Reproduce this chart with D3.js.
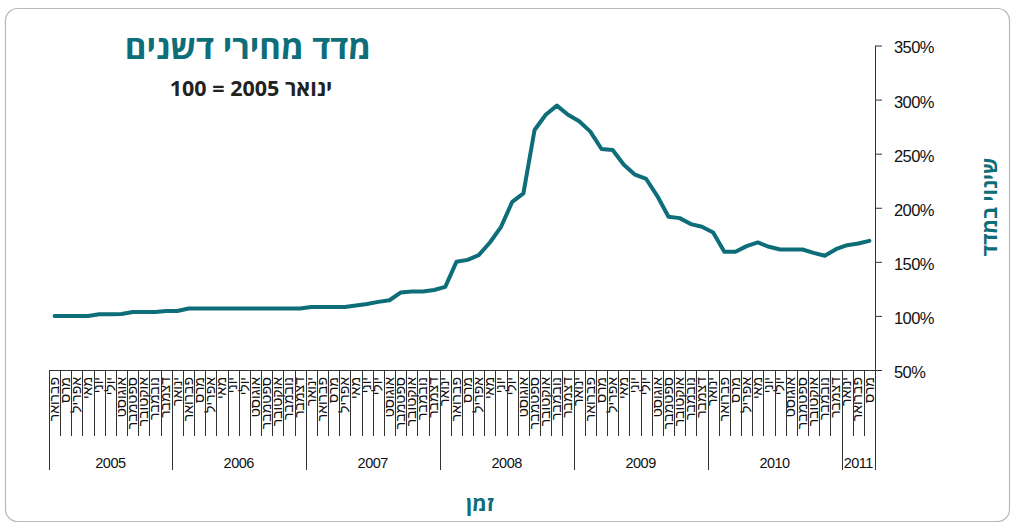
<!DOCTYPE html>
<html>
<head>
<meta charset="utf-8">
<script src="https://cdn.jsdelivr.net/npm/d3@7"></script>
<style>
  body { margin: 0; background: #fff; }
  .svgText { font-family: "Liberation Sans", Arial, sans-serif; fill: #111; }
  .heb { font-family: "Open Sans", "DejaVu Sans", "Liberation Sans", sans-serif; }
</style>
</head>
<body>
<div id="overview"></div>
<script>
// months shown on the category axis, Feb 2005 .. Mar 2011
const monthNames = ['ינואר', 'פברואר', 'מרס', 'אפריל', 'מאי', 'יוני', 'יולי', 'אוגוסט', 'ספטמבר', 'אוקטובר', 'נובמבר', 'דצמבר'];
const years = ['2005', '2006', '2007', '2008', '2009', '2010', '2011'];
const yearMonths = [11, 12, 12, 12, 12, 12, 3];
const firstMonth = 1; // february

// index value, january 2005 = 100
const values = [
  100, 100, 100, 100, 101.5, 101.6, 101.8, 103.7, 103.7, 103.7, 104.6, 104.6,
  106.8, 106.8, 106.8, 106.8, 106.8, 106.8, 106.8, 106.8, 106.8, 106.8, 106.8,
  108.3, 108.3, 108.3, 108.3, 109.6, 111, 113, 114.5,
  121.6, 122.5, 122.5, 124, 126.9,
  150, 151.8, 156.2, 167.9, 182.4, 205.5, 213.3, 271.9, 286, 294.4, 286, 279.9,
  270.4, 254.3, 253.4, 239.8, 230.6, 226.6, 210.8, 191.7, 190.4, 184.9, 182.4, 177.1,
  159.3, 159.3, 164.5, 167.9, 163.9, 161.4, 161.4, 161.4, 158.3, 155.6, 161.7, 165.4, 166.9, 169.4
];
const yTicks = [50, 100, 150, 200, 250, 300, 350];

const title = 'מדד מחירי דשנים';
const subtitle = 'ינואר 2005 = 100';
const yLabel = 'שינוי במדד';
const xLabel = 'זמן';

const teal = '#0d6d78';

LineChart = {

  svgSize: {width: 1013, height: 524},
  plot: {left: 49, right: 875, top: 45.5, bottom: 370},

  buildData: function(){
    this.data = values.map((v, i)=> {
      const m = (firstMonth + i) % 12;
      return {i: i, month: monthNames[m], isJan: m === 0, value: v};
    });
  },

  createSVG: function(){
    this.svg = d3.select('#overview').append('svg')
      .attr('width', this.svgSize.width)
      .attr('height', this.svgSize.height)
      .attr('viewBox', `0 0 ${this.svgSize.width} ${this.svgSize.height}`);

    this.svg.append('rect')
      .attr('x', 5.5).attr('y', 8.5)
      .attr('width', 1004).attr('height', 513)
      .attr('rx', 12)
      .attr('fill', '#fff')
      .attr('stroke', '#b8b8b8')
      .attr('stroke-width', 1.2);
  },

  createScales: function(){
    this.xScale = d3.scaleBand()
      .domain(this.data.map((d)=> d.i))
      .range([this.plot.left, this.plot.right])
      .padding(0);
    this.yScale = d3.scaleLinear()
      .domain([50, 350])
      .range([this.plot.bottom, this.plot.top]);
  },

  createYAxis: function(){
    const yAxis = d3.axisRight(this.yScale)
      .tickValues(yTicks)
      .tickFormat((d)=> `${d}%`)
      .tickSize(7)
      .tickSizeOuter(0)
      .tickPadding(12);
    const g = this.svg.append('g')
      .attr('transform', `translate(${this.plot.right}, 0)`)
      .call(yAxis);
    g.select('.domain').attr('stroke', '#333');
    g.selectAll('.tick line').attr('stroke', '#333');
    g.selectAll('text')
      .attr('class', 'svgText')
      .attr('font-size', 16.5)
      .attr('letter-spacing', -0.6)
      .attr('dy', '0.45em');
  },

  createXAxis: function(){
    const xAxis = d3.axisBottom(this.xScale)
      .tickFormat((i)=> this.data[i].month)
      .tickSize(0)
      .tickSizeOuter(0);
    const g = this.svg.append('g')
      .attr('transform', `translate(0, ${this.plot.bottom})`)
      .call(xAxis);
    g.select('.domain').attr('stroke', '#333');
    g.selectAll('text')
      .attr('class', 'svgText')
      .attr('font-size', 14)
      .attr('transform', 'rotate(-90)')
      .attr('x', -7)
      .attr('y', 0)
      .attr('dy', '0.3em')
      .attr('text-anchor', 'end');

    // category boundaries, longer ones between years
    const edges = this.data.map((d)=> ({x: this.xScale(d.i), long: d.isJan || d.i === 0}));
    edges.push({x: this.plot.right, long: true});
    this.svg.append('g').selectAll('line')
      .data(edges)
      .enter()
      .append('line')
      .attr('x1', (d)=> Math.round(d.x) + 0.5)
      .attr('x2', (d)=> Math.round(d.x) + 0.5)
      .attr('y1', this.plot.bottom)
      .attr('y2', (d)=> this.plot.bottom + (d.long ? 100 : 66))
      .attr('stroke', '#333')
      .attr('stroke-width', 1);

    // year labels centred on their months
    let start = 0;
    const yearPos = years.map((y, k)=> {
      const x0 = this.xScale(start);
      start += yearMonths[k];
      const x1 = start < this.data.length ? this.xScale(start) : this.plot.right;
      return {year: y, x: (x0 + x1) / 2};
    });
    this.svg.append('g').selectAll('text')
      .data(yearPos)
      .enter()
      .append('text')
      .attr('class', 'svgText')
      .attr('x', (d)=> d.x)
      .attr('y', 468)
      .attr('font-size', 14.5)
      .attr('letter-spacing', -0.5)
      .attr('text-anchor', 'middle')
      .text((d)=> d.year);
  },

  createLine: function(){
    const line = d3.line()
      .x((d)=> this.xScale(d.i) + this.xScale.bandwidth() / 2)
      .y((d)=> this.yScale(d.value));
    this.svg.append('path')
      .datum(this.data)
      .attr('d', line)
      .attr('fill', 'none')
      .attr('stroke', teal)
      .attr('stroke-width', 4)
      .attr('stroke-linejoin', 'round')
      .attr('stroke-linecap', 'round');
  },

  createTexts: function(){
    this.svg.append('text')
      .attr('class', 'heb')
      .attr('x', 248).attr('y', 59)
      .attr('direction', 'rtl')
      .attr('text-anchor', 'middle')
      .attr('font-size', 33)
      .attr('font-weight', 'bold')
      .attr('fill', teal)
      .text(title);

    this.svg.append('text')
      .attr('class', 'heb')
      .attr('x', 251).attr('y', 96)
      .attr('direction', 'rtl')
      .attr('text-anchor', 'middle')
      .attr('font-size', 21.5)
      .attr('font-weight', 'bold')
      .attr('fill', '#222')
      .text(subtitle);

    this.svg.append('text')
      .attr('class', 'heb')
      .attr('transform', 'translate(990, 207) rotate(-90)')
      .attr('direction', 'rtl')
      .attr('text-anchor', 'middle')
      .attr('dy', '0.35em')
      .attr('font-size', 21)
      .attr('font-weight', 'bold')
      .attr('fill', teal)
      .text(yLabel);

    this.svg.append('text')
      .attr('class', 'heb')
      .attr('x', 480).attr('y', 511)
      .attr('direction', 'rtl')
      .attr('text-anchor', 'middle')
      .attr('font-size', 21)
      .attr('font-weight', 'bold')
      .attr('fill', teal)
      .text(xLabel);
  },

  loadChart: function(){
    this.buildData();
    this.createSVG();
    this.createScales();
    this.createXAxis();
    this.createYAxis();
    this.createLine();
    this.createTexts();
  },
}

LineChart.loadChart();
</script>
</body>
</html>
